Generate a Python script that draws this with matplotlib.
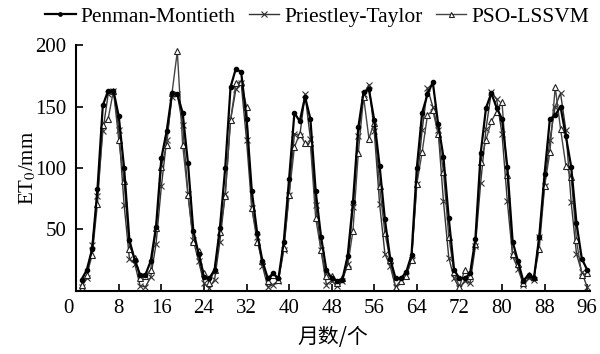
import matplotlib
matplotlib.use("Agg")
import matplotlib.pyplot as plt
import matplotlib.transforms as mtransforms
import numpy as np

# ============================================================
# 数据：1-96 月 ET0 (mm)
# ============================================================
months = np.arange(1, 97)

pm = [9, 17, 34, 83, 151, 163, 163, 142, 100, 41, 25, 13,
      13, 24, 52, 108, 130, 161, 160, 145, 104, 49, 30, 11,
      10, 17, 51, 100, 166, 181, 178, 140, 81, 47, 24, 10,
      14, 10, 40, 91, 145, 138, 158, 140, 81, 44, 17, 10,
      8, 9, 28, 72, 133, 162, 164, 139, 102, 58, 26, 10,
      10, 15, 29, 100, 145, 160, 170, 136, 109, 59, 17, 10,
      10, 14, 42, 112, 149, 161, 149, 140, 101, 40, 24, 8,
      13, 10, 44, 95, 140, 143, 150, 126, 101, 55, 26, 17]

pt = [3, 10, 37, 77, 130, 160, 163, 131, 70, 26, 22, 4,
      3, 11, 38, 85, 123, 158, 160, 135, 79, 41, 24, 6,
      2, 9, 40, 79, 139, 164, 169, 123, 67, 44, 20, 3,
      5, 8, 33, 78, 128, 126, 160, 124, 70, 33, 5, 8,
      4, 8, 22, 68, 126, 160, 168, 130, 71, 30, 20, 3,
      8, 12, 25, 87, 131, 165, 150, 131, 73, 27, 10, 2,
      8, 6, 36, 88, 132, 162, 156, 128, 73, 28, 18, 5,
      10, 9, 44, 85, 123, 150, 161, 131, 72, 30, 15, 3]

pso = [5, 13, 29, 71, 135, 140, 163, 123, 89, 34, 27, 10,
       12, 17, 51, 101, 119, 161, 195, 119, 78, 40, 32, 14,
       6, 17, 48, 77, 139, 169, 170, 150, 67, 40, 24, 8,
       13, 9, 35, 78, 117, 128, 120, 120, 59, 33, 12, 12,
       6, 10, 20, 49, 112, 158, 124, 137, 85, 47, 25, 2,
       8, 12, 25, 87, 113, 143, 147, 128, 97, 44, 15, 3,
       17, 12, 38, 105, 123, 138, 146, 154, 94, 30, 22, 6,
       13, 11, 34, 85, 113, 166, 132, 102, 93, 41, 13, 14]

x_ticks = list(range(0, 97, 8))
y_ticks = [50, 100, 150, 200]

# ============================================================
# 绘图
# ============================================================
plt.rcParams["font.family"] = ["Liberation Serif", "Noto Sans CJK SC"]
plt.rcParams["mathtext.fontset"] = "stix"

fig = plt.figure(figsize=(6.0, 3.54), dpi=100)
ax = fig.add_axes([0.127, 0.179, 0.856, 0.693])

ax.plot(months, pm, color="black", lw=1.6, marker="o", ms=3,
        label="Penman-Montieth", zorder=3)
ax.plot(months, pt, color="#333333", lw=1.0, marker="x", ms=5,
        mew=0.8, label="Priestley-Taylor", zorder=2)
ax.plot(months, pso, color="#444444", lw=1.0, marker="^", ms=4.5,
        mfc="white", mec="#222222", mew=0.8, label="PSO-LSSVM", zorder=2)

ax.set_xlim(0, 96.5)
ax.set_ylim(0, 200)
ax.set_xticks(x_ticks)
ax.set_yticks(y_ticks)
ax.tick_params(direction="in", length=5, width=1.2, labelsize=15)
ax.tick_params(axis="x", pad=6)
ax.tick_params(axis="y", pad=7)

# 原点 "0" 稍微左移
shift = mtransforms.ScaledTranslation(-8 / 100, 0, fig.dpi_scale_trans)
lbl0 = ax.get_xticklabels()[0]
lbl0.set_transform(lbl0.get_transform() + shift)

for side in ["top", "right"]:
    ax.spines[side].set_visible(False)
for side in ["left", "bottom"]:
    ax.spines[side].set_linewidth(1.5)

ax.set_ylabel("ET$_0$/mm", fontsize=15)
ax.yaxis.set_label_coords(-0.074, 0.5)
ax.set_xlabel("月数/个", fontsize=15, family=["Noto Sans CJK SC"], labelpad=6)

ax.legend(loc="lower left", bbox_to_anchor=(-0.06, 1.075), ncol=3,
          frameon=False, fontsize=15.5, handlelength=1.4,
          handletextpad=0.25, columnspacing=0.6, markerscale=0.8,
          borderaxespad=0, borderpad=0)

fig.savefig("out.png", dpi=100)
